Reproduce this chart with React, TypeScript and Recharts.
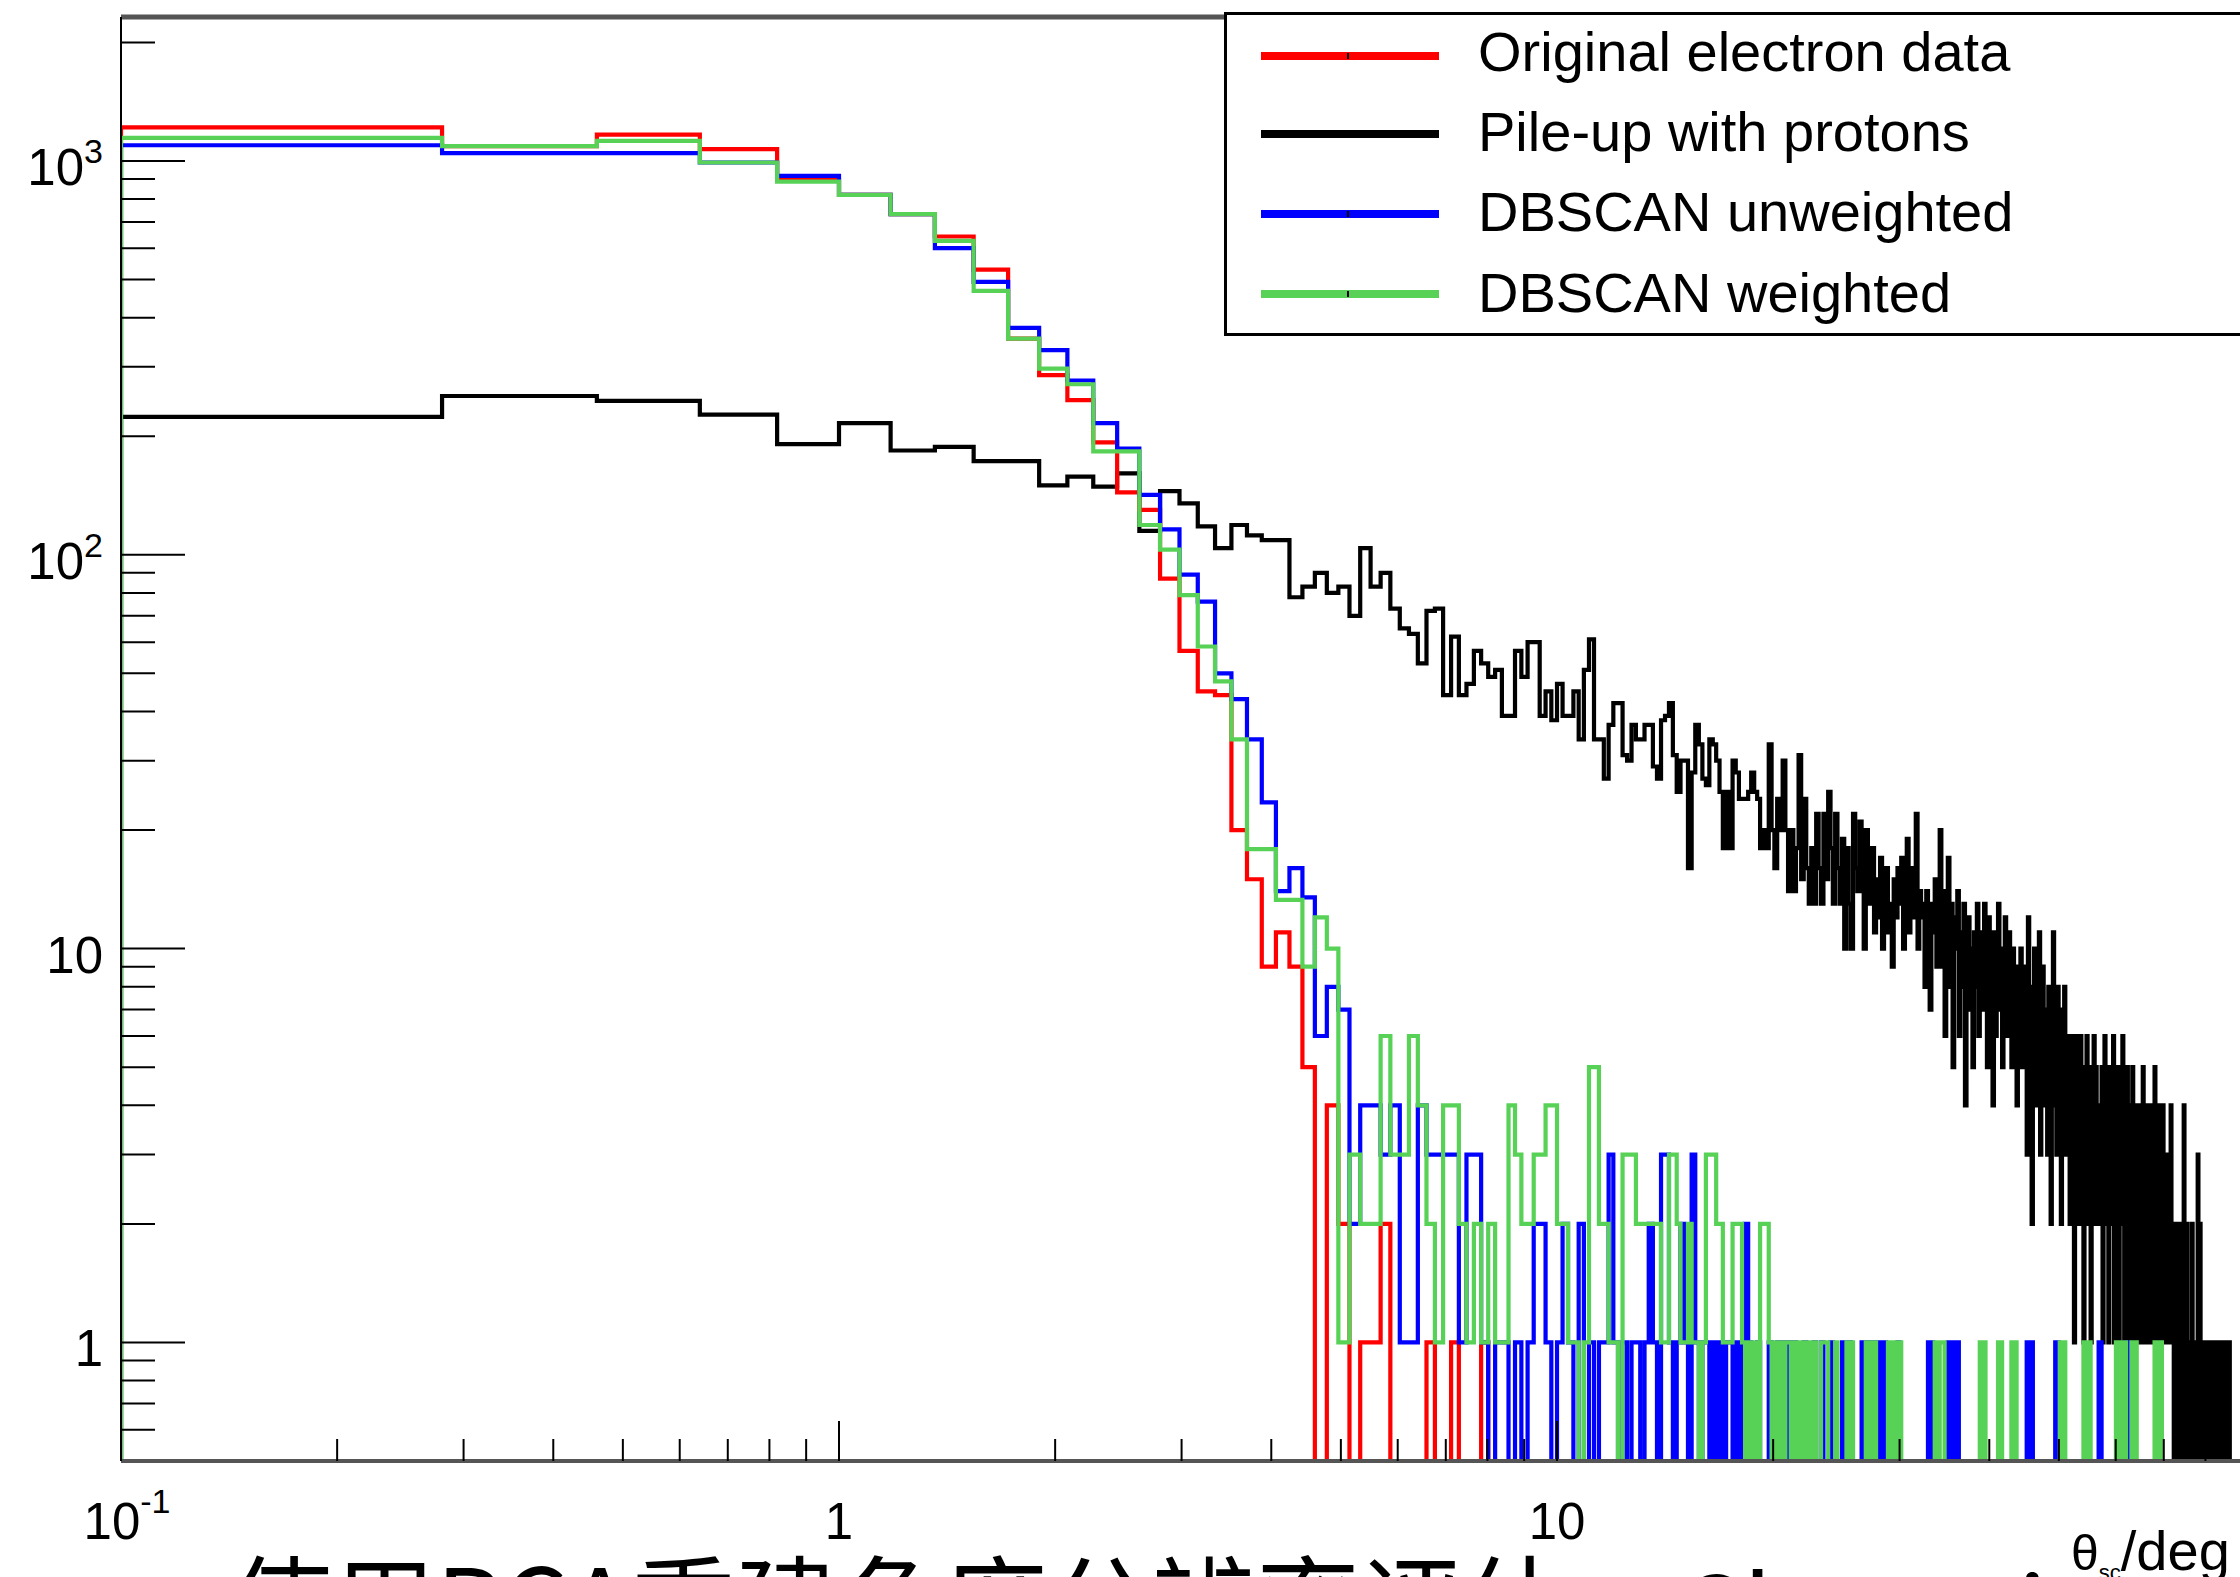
import React from 'react';
import { ComposedChart, Line, XAxis, YAxis, Legend } from 'recharts';

// histogram binning: 500 bins of 0.18 deg starting at 0.1 deg
const BIN_START = 0.1;
const BIN_WIDTH = 0.18;
const N_BINS = 500;

const X_MIN = 0.1;
const X_MAX = 90.1;
const Y_MIN = 0.5;
const Y_MAX = 2320;

const X_MAJOR = [0.1, 1, 10];
const X_TICKS = [
  0.1, 0.2, 0.3, 0.4, 0.5, 0.6, 0.7, 0.8, 0.9,
  1, 2, 3, 4, 5, 6, 7, 8, 9,
  10, 20, 30, 40, 50, 60, 70, 80, 90,
];
const Y_MAJOR = [1, 10, 100, 1000];
const Y_TICKS = [
  0.6, 0.7, 0.8, 0.9,
  1, 2, 3, 4, 5, 6, 7, 8, 9,
  10, 20, 30, 40, 50, 60, 70, 80, 90,
  100, 200, 300, 400, 500, 600, 700, 800, 900,
  1000, 2000,
];

// counts per bin (bins past the end of an array are empty)
const originalElectron = [
  1217, 1091, 1166, 1072, 895, 820, 733, 643, 530, 354,
  286, 247, 193, 144, 130, 87, 57, 45, 44, 20,
  15, 9, 11, 9, 5, 0, 4, 2, 0, 1,
  1, 2, 0, 0, 0, 0, 1, 0, 0, 1,
  0, 0, 0, 1,
];

const pileUpProtons = [
  224, 253, 246, 227, 191, 216, 184, 188, 173, 173,
  150, 158, 149, 161, 115, 145, 135, 118, 104, 119,
  112, 109, 109, 78, 83, 90, 80, 83, 70, 104,
  83, 90, 73, 65, 63, 53, 72, 73, 44, 62,
  44, 47, 57, 53, 49, 51, 39, 39, 57, 49,
  60, 60, 39, 45, 38, 47, 39, 39, 45, 34,
  51, 61, 34, 34, 27, 37, 42, 42, 31, 30,
  37, 34, 34, 37, 37, 29, 27, 38, 39, 42,
  31, 25, 30, 30, 16, 28, 37, 33, 27, 26,
  34, 33, 30, 25, 18, 25, 18, 30, 28, 24,
  24, 24, 25, 28, 25, 24, 18, 20, 18, 33,
  20, 16, 24, 20, 30, 20, 14, 20, 14, 18,
  31, 15, 24, 16, 13, 18, 13, 22, 16, 13,
  22, 15, 25, 18, 13, 22, 16, 13, 19, 10,
  18, 13, 10, 22, 16, 14, 21, 14, 10, 20,
  16, 13, 18, 11, 15, 12, 17, 10, 14, 16,
  11, 13, 9, 15, 12, 16, 13, 17, 10, 14,
  19, 11, 16, 12, 15, 22, 10, 14, 13, 12,
  8, 14, 10, 7, 13, 11, 15, 9, 12, 20,
  9, 14, 6, 11, 17, 8, 13, 5, 12, 10,
  14, 6, 11, 8, 13, 4, 9, 12, 7, 10,
  5, 11, 8, 13, 6, 9, 11, 7, 13, 9,
  5, 12, 8, 10, 4, 11, 6, 9, 13, 7,
  10, 5, 8, 12, 6, 9, 11, 8, 5, 10,
  7, 9, 4, 8, 6, 10, 5, 9, 7, 9,
  3, 12, 6, 8, 2, 7, 10, 4, 8, 5,
  11, 3, 7, 9, 4, 6, 7, 3, 8, 5,
  2, 6, 11, 4, 7, 3, 8, 5, 6, 2,
  7, 4, 8, 3, 5, 6, 5, 2, 6, 3,
  4, 1, 6, 4, 2, 5, 3, 6, 2, 4,
  1, 5, 3, 6, 4, 2, 5, 1, 4, 3,
  6, 2, 5, 3, 4, 2, 4, 2, 5, 1,
  3, 6, 2, 4, 3, 1, 5, 2, 4, 3,
  6, 1, 3, 4, 2, 5, 1, 3, 4, 2,
  6, 3, 1, 4, 2, 5, 3, 1, 4, 2,
  3, 5, 1, 4, 2, 3, 1, 4, 3, 1,
  4, 2, 2, 5, 1, 3, 2, 4, 1, 3,
  2, 1, 4, 2, 3, 1, 2, 5, 1, 3,
  2, 1, 4, 2, 1, 3, 2, 4, 1, 2,
  3, 1, 2, 1, 3, 2, 1, 4, 1, 2,
  1, 0, 2, 1, 1, 0, 2, 1, 0, 1,
  1, 2, 0, 1, 4, 1, 0, 1, 2, 1,
  1, 0, 1, 1, 0, 2, 1, 0, 1, 1,
  0, 1, 0, 3, 1, 0, 2, 1, 0, 1,
  1, 0, 1, 1, 0, 1, 0, 1, 1, 0,
  1, 0, 1, 1, 0, 1, 0, 1, 0, 1,
  1, 0, 1, 0, 1, 0, 1, 1, 0, 1,
  0, 1, 0, 0, 1, 0, 1, 0, 1, 1,
];

const dbscanUnweighted = [
  1096, 1047, 1047, 991, 916, 820, 733, 601, 493, 377,
  331, 277, 216, 186, 142, 116, 89, 76, 50, 43,
  34, 23.5, 14, 16, 13.5, 6, 8, 7, 2, 4,
  4, 3, 4, 1, 1, 4, 3, 3, 3, 3,
  1, 3, 3, 1, 0, 1, 1, 0, 1, 0,
  1, 2, 2, 1, 0, 1, 2, 1, 0, 2,
  0, 1, 0, 1, 1, 3, 1, 0, 1, 0,
  1, 1, 0, 1, 2, 1, 0, 3, 3, 1,
  0, 1, 2, 1, 0, 3, 1, 0, 1, 1,
  0, 1, 0, 1, 0, 1, 1, 0, 1, 0,
  1, 2, 1, 0, 0, 1, 0, 0, 0, 1,
  0, 0, 1, 0, 1, 0, 1, 0, 1, 0,
  0, 0, 1, 0, 0, 0, 1, 0, 0, 1,
  0, 0, 0, 1, 0, 0, 0, 0, 1, 0,
  0, 1, 0, 0, 0, 0, 0, 1, 0, 1,
  0, 1, 0, 0, 1, 0, 1, 0, 1, 0,
  0, 0, 0, 0, 0, 1, 0, 0, 0, 0,
  0, 0, 0, 0, 0, 0, 0, 0, 0, 0,
  0, 0, 1, 0, 1, 0, 0, 0, 0, 0,
  0, 0, 0, 0, 1, 0, 1, 0, 1, 0,
  1, 0, 0, 0, 0, 0, 0, 0, 0, 0,
  0, 0, 0, 0, 0, 0, 0, 0, 0, 0,
  0, 0, 0, 0, 0, 0, 0, 0, 0, 0,
  0, 0, 0, 0, 0, 0, 0, 0, 0, 0,
  0, 0, 0, 0, 0, 0, 0, 0, 0, 0,
  1, 0, 1, 0, 1, 0, 0, 0, 0, 0,
  0, 0, 0, 0, 0, 0, 0, 0, 0, 0,
  0, 0, 0, 0, 1, 0, 1, 0, 0, 0,
  0, 0, 0, 0, 0, 0, 0, 0, 0, 0,
  0, 0, 0, 0, 0, 0, 0, 0, 0, 0,
  0, 0, 0, 0, 0, 0, 0, 0, 0, 0,
  0, 0, 0, 0, 0, 1, 0, 1, 0, 0,
  0, 0, 0, 0, 0, 0, 0, 0, 0, 0,
  0, 0, 0, 0, 0, 0, 0, 0, 0, 0,
  0, 0, 0, 0, 1, 0, 1,
];

const dbscanWeighted = [
  1145, 1091, 1125, 991, 886, 820, 733, 627, 468, 354,
  297, 271, 183, 183, 119, 103, 79, 58.5, 47.7, 34,
  17.9, 17.9, 13.3, 13.3, 9, 12, 10, 1, 3, 2,
  2, 6, 3, 3, 6, 4, 2, 1, 4, 4,
  2, 1, 2, 1, 2, 1, 1, 4, 3, 2,
  2, 3, 3, 4, 4, 2, 2, 1, 1, 0,
  1, 5, 5, 2, 2, 1, 1, 0, 3, 3,
  3, 2, 2, 2, 2, 2, 2, 1, 1, 3,
  3, 2, 1, 1, 2, 1, 1, 0, 1, 3,
  3, 3, 2, 2, 1, 1, 1, 2, 2, 2,
  1, 0, 1, 0, 1, 0, 2, 2, 2, 1,
  0, 1, 0, 1, 0, 1, 1, 0, 1, 0,
  1, 0, 1, 0, 1, 0, 1, 0, 0, 1,
  1, 1, 0, 0, 0, 1, 0, 0, 0, 0,
  1, 0, 1, 0, 0, 0, 0, 0, 0, 1,
  1, 0, 1, 1, 0, 0, 0, 0, 0, 0,
  1, 1, 0, 1, 0, 1, 1, 0, 0, 0,
  0, 0, 0, 0, 0, 0, 0, 0, 0, 0,
  0, 0, 0, 0, 0, 0, 1, 1, 0, 1,
  1, 1, 0, 0, 0, 0, 0, 0, 0, 0,
  0, 0, 0, 0, 0, 0, 0, 0, 0, 0,
  0, 0, 0, 0, 0, 1, 1, 0, 1, 0,
  0, 0, 0, 0, 0, 0, 0, 0, 1, 0,
  1, 0, 0, 0, 0, 0, 0, 0, 1, 1,
  0, 1, 0, 0, 0, 0, 0, 0, 0, 0,
  0, 0, 0, 0, 0, 0, 0, 0, 0, 0,
  0, 0, 0, 0, 0, 0, 0, 0, 0, 0,
  0, 0, 0, 0, 0, 0, 0, 0, 1, 1,
  0, 1, 1, 0, 0, 0, 0, 0, 0, 0,
  0, 0, 0, 0, 0, 0, 0, 0, 0, 0,
  1, 1, 0, 1, 1, 0, 1, 0, 0, 0,
  0, 0, 0, 0, 0, 0, 0, 0, 0, 0,
  0, 0, 0, 0, 0, 0, 0, 0, 0, 0,
  0, 0, 0, 1, 1, 0, 1, 0, 0, 0,
  1, 1, 0, 1, 0, 0, 0, 0, 0, 0,
  1, 1, 0, 1, 1, 1, 0, 0, 0, 0,
  0, 0, 0, 0, 0, 0, 0, 0, 0, 0,
  0, 0, 0, 0, 0, 0, 0, 1, 0, 1,
  1, 0, 1, 1, 0, 1,
];

// legend order
const SERIES = [
  { key: 'original', name: 'Original electron data', color: '#ff0000', values: originalElectron },
  { key: 'pileup', name: 'Pile-up with protons', color: '#000000', values: pileUpProtons },
  { key: 'unweighted', name: 'DBSCAN unweighted', color: '#0000ff', values: dbscanUnweighted },
  { key: 'weighted', name: 'DBSCAN weighted', color: '#57d257', values: dbscanWeighted },
];
// drawing order (last on top)
const DRAW_ORDER = ['pileup', 'original', 'unweighted', 'weighted'];

// empty bins sit on the bottom of the frame, as ROOT draws them
const toPlot = (v: number | undefined) => (v && v > 0 ? v : Y_MIN);

const buildRows = () => {
  const rows: any[] = [];
  const first: any = { x: BIN_START };
  SERIES.forEach((s) => (first[s.key] = Y_MIN));
  rows.push(first);
  for (let k = 0; k < N_BINS; k++) {
    const row: any = { x: BIN_START + k * BIN_WIDTH };
    SERIES.forEach((s) => (row[s.key] = toPlot(s.values[k])));
    rows.push(row);
  }
  const last: any = { x: BIN_START + N_BINS * BIN_WIDTH };
  SERIES.forEach((s) => (last[s.key] = toPlot(s.values[N_BINS - 1])));
  rows.push(last);
  return rows;
};

const rows = buildRows();

const FONT = "'Liberation Sans', Arial, Helvetica, sans-serif";

const xLabel = (v: number) => {
  if (v === 0.1) {
    return (
      <>
        10<tspan fontSize={34} dy={-26}>-1</tspan>
      </>
    );
  }
  return String(v);
};

const XTick = (props: any) => {
  const { x, y, payload } = props;
  const v = payload.value;
  const major = X_MAJOR.includes(v);
  return (
    <g>
      <line x1={x} x2={x} y1={y} y2={y - (major ? 40 : 22)} stroke="#000" strokeWidth={2} />
      {major && (
        <text x={x + (v === 0.1 ? 6 : 0)} y={y + 78} textAnchor="middle" fontSize={51} fontFamily={FONT} fill="#000">
          {xLabel(v)}
        </text>
      )}
    </g>
  );
};

const yLabel = (v: number) => {
  if (v === 100 || v === 1000) {
    return (
      <>
        10<tspan fontSize={34} dy={-22}>{v === 100 ? '2' : '3'}</tspan>
      </>
    );
  }
  return String(v);
};

const YTick = (props: any) => {
  const { x, y, payload } = props;
  const v = payload.value;
  const major = Y_MAJOR.includes(v);
  return (
    <g>
      <line x1={x} x2={x + (major ? 64 : 34)} y1={y} y2={y} stroke="#000" strokeWidth={2} />
      {major && (
        <text x={x - 18} y={y + 24} textAnchor="end" fontSize={51} fontFamily={FONT} fill="#000">
          {yLabel(v)}
        </text>
      )}
    </g>
  );
};

const LegendBox = () => (
  <div
    style={{
      position: 'relative',
      width: 1100,
      height: 324,
      boxSizing: 'border-box',
      border: '3px solid #000',
      background: '#fff',
      fontFamily: FONT,
      color: '#000',
    }}
  >
    {SERIES.map((s, i) => {
      const center = [40.5, 119, 199, 279][i];
      const textTop = [8.6, 88.6, 169, 249.6][i];
      return (
        <div key={s.key}>
          <div style={{ position: 'absolute', left: 34, top: center - 4, width: 178, height: 8, background: s.color }} />
          <div style={{ position: 'absolute', left: 120, top: center - 3, width: 2, height: 6, background: '#000' }} />
          <div
            style={{
              position: 'absolute',
              left: 251,
              top: textTop,
              fontSize: 56,
              lineHeight: '56px',
              whiteSpace: 'nowrap',
            }}
          >
            {s.name}
          </div>
        </div>
      );
    })}
  </div>
);

const App = () => {
  const byKey: any = {};
  SERIES.forEach((s) => (byKey[s.key] = s));

  return (
    <div
      style={{
        position: 'fixed',
        left: 0,
        top: 0,
        width: 2240,
        height: 1577,
        overflow: 'hidden',
        background: '#fff',
      }}
    >
      <ComposedChart
        width={2300}
        height={1600}
        data={rows}
        margin={{ top: 0, right: 57.5, bottom: 0, left: 0 }}
      >
        <XAxis
          xAxisId="frame"
          orientation="top"
          type="number"
          scale="log"
          domain={[X_MIN, X_MAX]}
          allowDataOverflow
          tick={false}
          tickLine={false}
          height={17}
          axisLine={{ stroke: '#555', strokeWidth: 5 }}
        />
        <XAxis
          dataKey="x"
          type="number"
          scale="log"
          domain={[X_MIN, X_MAX]}
          allowDataOverflow
          ticks={X_TICKS}
          interval={0}
          tick={(p: any) => <XTick {...p} />}
          tickLine={false}
          tickSize={0}
          tickMargin={0}
          height={139}
          axisLine={{ stroke: '#555', strokeWidth: 4 }}
        />
        <YAxis
          type="number"
          scale="log"
          domain={[Y_MIN, Y_MAX]}
          allowDataOverflow
          ticks={Y_TICKS}
          interval={0}
          tick={(p: any) => <YTick {...p} />}
          tickLine={false}
          tickSize={0}
          tickMargin={0}
          width={121}
          axisLine={{ stroke: '#000', strokeWidth: 2 }}
        />
        {DRAW_ORDER.map((key) => (
          <Line
            key={key}
            dataKey={key}
            name={byKey[key].name}
            type="stepAfter"
            stroke={byKey[key].color}
            strokeWidth={4.2}
            dot={false}
            activeDot={false}
            isAnimationActive={false}
          />
        ))}
        <Legend
          layout="vertical"
          align="center"
          verticalAlign="middle"
          wrapperStyle={{ left: 1224, top: 12, width: 1100, height: 324 }}
          content={() => <LegendBox />}
        />
      </ComposedChart>

      <svg
        width={2240}
        height={1577}
        style={{ position: 'absolute', left: 0, top: 0, pointerEvents: 'none' }}
      >
        <text x={2071} y={1570} fontSize={50} fontFamily={FONT} fill="#000">
          θ<tspan fontSize={22} dy={10}>sc</tspan>
          <tspan fontSize={56} dy={-10}>/deg</tspan>
        </text>
        <text y={1644} fontSize={104} fontFamily="'Noto Sans CJK SC', sans-serif" fill="#000">
          <tspan x={228}>使用PCA重建角度分辨率评估</tspan>
          <tspan x={1677} dy={8}>Clustering</tspan>
        </text>
      </svg>
    </div>
  );
};

export default App;
